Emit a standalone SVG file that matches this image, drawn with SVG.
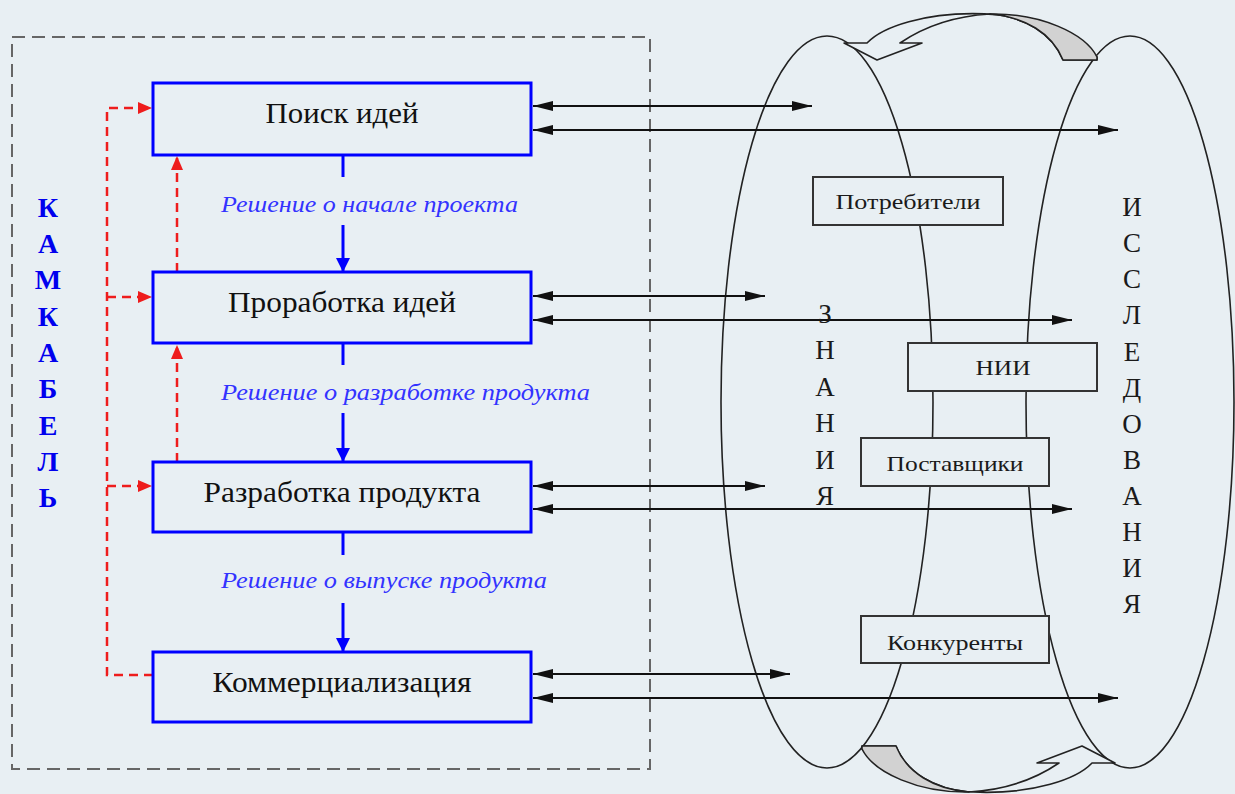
<svg xmlns="http://www.w3.org/2000/svg" width="1235" height="794" viewBox="0 0 1235 794">
<style>
.bg{fill:#e8eff3}
.bbox{fill:#e8eff3;stroke:#0000ff;stroke-width:3}
.btxt{font-family:"Liberation Serif",serif;font-size:29px;fill:#111;text-anchor:middle}
.lbl{font-family:"Liberation Serif",serif;font-size:23px;font-style:italic;fill:#3333ff;text-anchor:start}
.kab{font-family:"Liberation Serif",serif;font-size:28px;font-weight:bold;fill:#0000ee;text-anchor:middle}
.vt{font-family:"Liberation Serif",serif;font-size:27px;fill:#1a1a1a;text-anchor:middle}
.rbox{fill:#e8eff3;stroke:#333;stroke-width:2}
.rtxt{font-family:"Liberation Serif",serif;font-size:22px;fill:#1a1a1a;text-anchor:middle}
.blk{stroke:#111;stroke-width:2.2;fill:none;marker-start:url(#ah);marker-end:url(#ah)}
.blue{stroke:#0000ff;stroke-width:3;fill:none}
.red{stroke:#ee1c1c;stroke-width:2.5;fill:none;stroke-dasharray:9 6}
.ell{fill:none;stroke:#222;stroke-width:1.6}
.carr{fill:#e8eff3;stroke:#222;stroke-width:1.6;stroke-linejoin:round}
</style>
<defs>
<marker id="ah" viewBox="0 0 20 10" refX="20" refY="5" markerWidth="22" markerHeight="10" markerUnits="userSpaceOnUse" orient="auto-start-reverse">
<path d="M0,0 L20,5 L0,10 Z" fill="#111"/>
</marker>
<marker id="bh" viewBox="0 0 14 14" refX="14" refY="7" markerWidth="14" markerHeight="14" markerUnits="userSpaceOnUse" orient="auto">
<path d="M0,0 L14,7 L0,14 Z" fill="#0000ff"/>
</marker>
<marker id="rh" viewBox="0 0 14 12" refX="14" refY="6" markerWidth="14" markerHeight="12" markerUnits="userSpaceOnUse" orient="auto">
<path d="M0,0 L14,6 L0,12 Z" fill="#ee1c1c"/>
</marker>
<g id="curv">
<path class="carr" d="M844,43 L867,43 C900,8 1040,-5 1097,57 L1097,60 L1063,60 C1052,33 1025,17 990,14 C955,16 925,26 900,43 L922,43 L877,60 Z"/>
<path d="M990,14 C1040,13 1085,33 1097,57 L1097,60 L1063,60 C1052,33 1025,17 990,14 Z" fill="#d2d2d2" stroke="#222" stroke-width="1.6" stroke-linejoin="round"/>
</g>
</defs>
<rect class="bg" x="0" y="0" width="1235" height="794"/>

<rect x="12" y="37" width="638" height="732" fill="none" stroke="#666" stroke-width="2" stroke-dasharray="13 7"/>

<g id="ellipses">
<ellipse class="ell" cx="827" cy="402" rx="106" ry="366"/>
<ellipse class="ell" cx="1130" cy="402" rx="104" ry="366"/>
</g>

<g id="cycle-arrows">
<use href="#curv"/>
<use href="#curv" transform="rotate(180 979.5 403)"/>
</g>

<g id="connectors">
<line class="blue" x1="343" y1="155" x2="343" y2="177"/>
<line class="blue" x1="343" y1="225" x2="343" y2="272" marker-end="url(#bh)"/>
<line class="blue" x1="343" y1="343" x2="343" y2="365"/>
<line class="blue" x1="343" y1="413" x2="343" y2="462" marker-end="url(#bh)"/>
<line class="blue" x1="343" y1="532" x2="343" y2="555"/>
<line class="blue" x1="343" y1="603" x2="343" y2="652" marker-end="url(#bh)"/>

<polyline class="red" points="153,675 107,675 107,108 152,108" marker-end="url(#rh)"/>
<line class="red" x1="107" y1="297" x2="152" y2="297" marker-end="url(#rh)"/>
<line class="red" x1="107" y1="486" x2="152" y2="486" marker-end="url(#rh)"/>
<line class="red" x1="177" y1="272" x2="177" y2="156" marker-end="url(#rh)"/>
<line class="red" x1="177" y1="462" x2="177" y2="345" marker-end="url(#rh)"/>

<line class="blk" x1="533" y1="106" x2="812" y2="106"/>
<line class="blk" x1="533" y1="130" x2="1118" y2="130"/>
<line class="blk" x1="533" y1="296" x2="765" y2="296"/>
<line class="blk" x1="533" y1="320" x2="1072" y2="320"/>
<line class="blk" x1="533" y1="486" x2="765" y2="486"/>
<line class="blk" x1="533" y1="509" x2="1072" y2="509"/>
<line class="blk" x1="533" y1="674" x2="790" y2="674"/>
<line class="blk" x1="533" y1="698" x2="1118" y2="698"/>
</g>

<g id="n-poisk"><rect class="bbox" x="153" y="83" width="378" height="72"/><text class="btxt" x="342" y="123" textLength="153" lengthAdjust="spacingAndGlyphs">Поиск идей</text></g>
<g id="n-prorab"><rect class="bbox" x="153" y="272" width="378" height="71"/><text class="btxt" x="342" y="312" textLength="228" lengthAdjust="spacingAndGlyphs">Проработка идей</text></g>
<g id="n-razrab"><rect class="bbox" x="153" y="462" width="378" height="70"/><text class="btxt" x="342" y="502" textLength="277" lengthAdjust="spacingAndGlyphs">Разработка продукта</text></g>
<g id="n-komm"><rect class="bbox" x="153" y="652" width="378" height="70"/><text class="btxt" x="342" y="692" textLength="259" lengthAdjust="spacingAndGlyphs">Коммерциализация</text></g>

<g id="labels">
<text class="lbl" x="221" y="212" textLength="297" lengthAdjust="spacingAndGlyphs">Решение о начале проекта</text>
<text class="lbl" x="221" y="400" textLength="369" lengthAdjust="spacingAndGlyphs">Решение о разработке продукта</text>
<text class="lbl" x="221" y="588" textLength="326" lengthAdjust="spacingAndGlyphs">Решение о выпуске продукта</text>
</g>

<g id="kamkabel">
<text class="kab" x="48" y="217">К</text>
<text class="kab" x="48" y="253">А</text>
<text class="kab" x="48" y="289">М</text>
<text class="kab" x="48" y="326">К</text>
<text class="kab" x="48" y="362">А</text>
<text class="kab" x="48" y="398">Б</text>
<text class="kab" x="48" y="435">Е</text>
<text class="kab" x="48" y="471">Л</text>
<text class="kab" x="48" y="507">Ь</text>
</g>

<g id="znaniya">
<text class="vt" x="825" y="323">З</text>
<text class="vt" x="825" y="359">Н</text>
<text class="vt" x="825" y="396">А</text>
<text class="vt" x="825" y="432">Н</text>
<text class="vt" x="825" y="469">И</text>
<text class="vt" x="825" y="505">Я</text>
</g>

<g id="issledovaniya">
<text class="vt" x="1132" y="216">И</text>
<text class="vt" x="1132" y="252">С</text>
<text class="vt" x="1132" y="288">С</text>
<text class="vt" x="1132" y="324">Л</text>
<text class="vt" x="1132" y="361">Е</text>
<text class="vt" x="1132" y="397">Д</text>
<text class="vt" x="1132" y="433">О</text>
<text class="vt" x="1132" y="469">В</text>
<text class="vt" x="1132" y="505">А</text>
<text class="vt" x="1132" y="541">Н</text>
<text class="vt" x="1132" y="577">И</text>
<text class="vt" x="1132" y="613">Я</text>
</g>

<g id="n-potreb"><rect class="rbox" x="813" y="177" width="190" height="48"/><text class="rtxt" x="908" y="209" textLength="145" lengthAdjust="spacingAndGlyphs">Потребители</text></g>
<g id="n-nii"><rect class="rbox" x="908" y="343" width="189" height="48"/><text class="rtxt" x="1003" y="375" textLength="55" lengthAdjust="spacingAndGlyphs">НИИ</text></g>
<g id="n-postav"><rect class="rbox" x="861" y="438" width="188" height="48"/><text class="rtxt" x="955" y="471" textLength="137" lengthAdjust="spacingAndGlyphs">Поставщики</text></g>
<g id="n-konk"><rect class="rbox" x="861" y="616" width="188" height="47"/><text class="rtxt" x="955" y="650" textLength="136" lengthAdjust="spacingAndGlyphs">Конкуренты</text></g>
</svg>
